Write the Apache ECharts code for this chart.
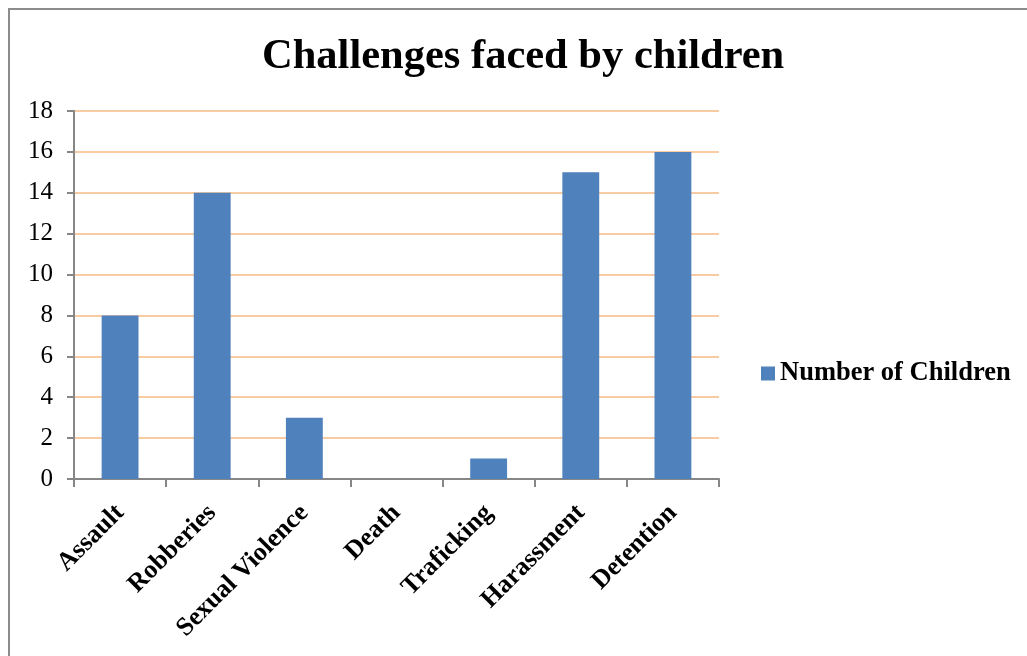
<!DOCTYPE html>
<html>
<head>
<meta charset="utf-8">
<script src="https://cdn.jsdelivr.net/npm/echarts@6/dist/echarts.min.js"></script>
<style>
  html, body { margin: 0; padding: 0; background: #ffffff; }
  #frame { position: absolute; left: 8px; top: 8px; width: 1030px; height: 660px; border: 2px solid #8c8c8c; box-sizing: border-box; }
  #chart { position: absolute; left: 0; top: 0; width: 1027px; height: 656px; }
</style>
</head>
<body>
<div id="frame"></div>
<div id="chart"></div>
<script>
// Challenges reported for children, by type
const categories = ['Assault', 'Robberies', 'Sexual Violence', 'Death', 'Traficking', 'Harassment', 'Detention'];
const numberOfChildren = [8, 14, 3, 0, 1, 15, 16];
const seriesName = 'Number of Children';
const chartTitle = 'Challenges faced by children';

const serif = '"Liberation Serif", "Times New Roman", serif';
const chart = echarts.init(document.getElementById('chart'), null, { renderer: 'canvas' });

chart.setOption({
  animation: false,
  backgroundColor: 'transparent',
  title: {
    text: chartTitle,
    left: 257,
    top: 31,
    textStyle: { fontFamily: serif, fontWeight: 'bold', fontSize: 42.5, color: '#000' }
  },
  legend: {
    data: [seriesName],
    orient: 'vertical',
    left: 761,
    top: 360,
    padding: 0,
    itemWidth: 14,
    itemHeight: 14,
    itemGap: 6,
    icon: 'rect',
    itemStyle: { borderWidth: 0 },
    textStyle: { fontFamily: serif, fontWeight: 'bold', fontSize: 26.5, color: '#000', padding: [0, 0, 0, 0] }
  },
  grid: { left: 74, right: 308, top: 111, height: 368, containLabel: false },
  xAxis: {
    type: 'category',
    data: categories,
    axisLine: { lineStyle: { color: '#868686', width: 2 } },
    axisTick: { show: true, length: 8, alignWithLabel: false, lineStyle: { color: '#868686', width: 2 } },
    axisLabel: {
      rotate: 45,
      margin: 30,
      fontFamily: serif,
      fontWeight: 'bold',
      fontSize: 26,
      color: '#000',
      interval: 0
    }
  },
  yAxis: {
    type: 'value',
    min: 0,
    max: 18,
    interval: 2,
    axisLine: { show: true, lineStyle: { color: '#868686', width: 2 } },
    axisTick: { show: true, length: 7, lineStyle: { color: '#868686', width: 2 } },
    axisLabel: { fontFamily: serif, fontSize: 25, color: '#000', margin: 21 },
    splitLine: { show: true, lineStyle: { color: '#F9CBA3', width: 2 } }
  },
  series: [{
    name: seriesName,
    type: 'bar',
    data: numberOfChildren,
    barWidth: '40%',
    itemStyle: { color: '#4F81BD', borderWidth: 0 }
  }]
});
</script>
</body>
</html>
